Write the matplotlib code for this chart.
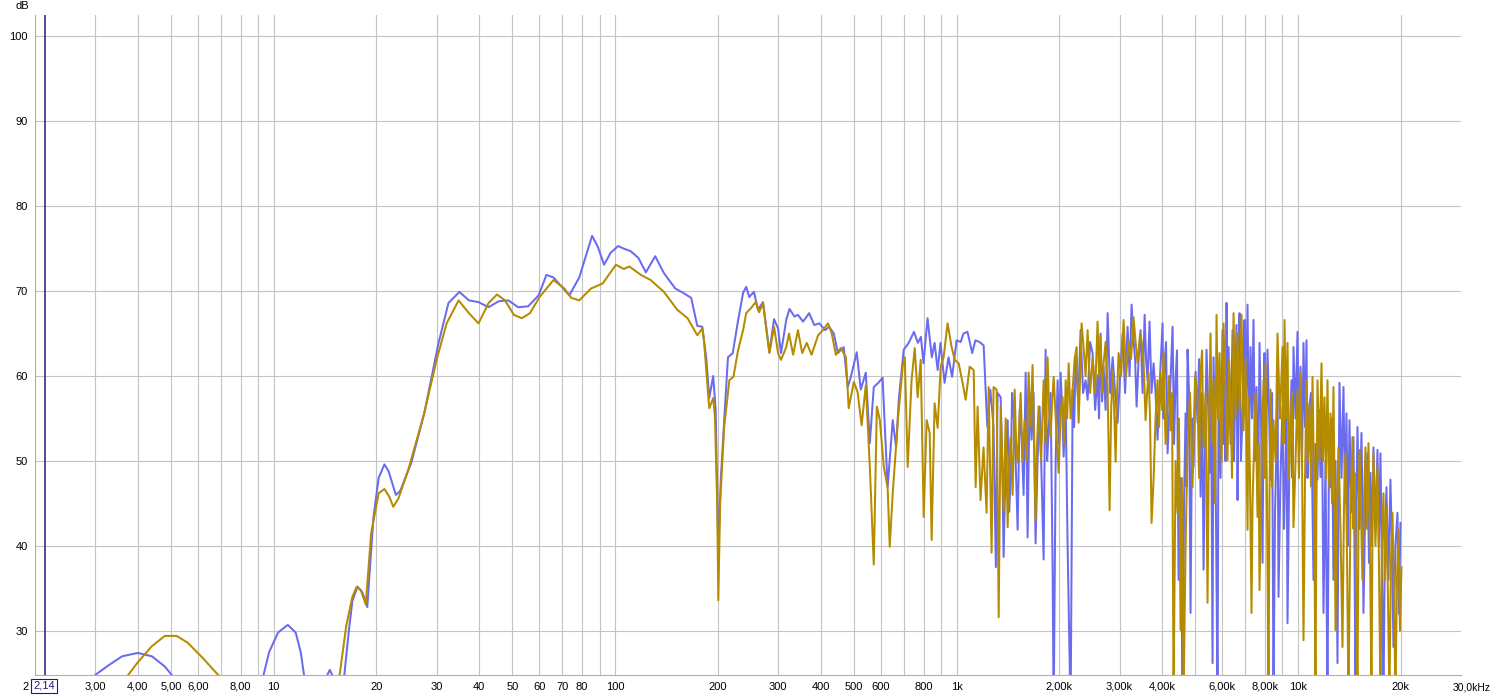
import matplotlib
matplotlib.use("Agg")
import matplotlib.pyplot as plt

plt.rcParams['font.family'] = ['Liberation Sans', 'DejaVu Sans']

# Trace 1 (blue), up to ~1.3 kHz: frequency in Hz, level in dB
blue_lo_freq = [2.0, 2.8, 3.0, 3.3, 3.6, 4.0, 4.4, 4.8, 5.1, 5.6, 8.5, 9.3, 9.7, 10.3, 11.0, 11.6, 12.0, 12.3, 13.5,
                14.2, 14.6, 15.0, 15.5, 16.1, 16.6, 17.0, 17.6, 18.2, 18.8, 19.6, 20.3, 21.1, 21.7, 22.8, 23.5, 25.3,
                27.6, 30.4, 32.5, 35.0, 37.3, 39.8, 42.6, 45.6, 48.7, 52.0, 55.6, 59.7, 62.9, 66.0, 73.4, 78.5, 85.6,
                89.0, 92.8, 97.0, 102, 106, 111, 117, 123, 131, 139, 150, 158, 167, 174, 180, 185, 188.6, 193.7, 197,
                200.5, 204, 208.6, 214, 221, 229, 237, 242, 247, 255, 262, 271, 283, 292, 300, 306, 317, 324, 335, 343,
                355, 370, 383, 396, 412, 423, 437, 449, 467, 480, 490, 510, 524, 542, 557, 572, 590, 607, 628, 650,
                665, 677, 700, 724, 750, 770, 786, 800, 822, 846, 862, 880, 897, 922, 947, 970, 1000, 1027, 1048,
                1076, 1111, 1135, 1167, 1200, 1230, 1255, 1283, 1303, 1318]
blue_lo_db = [15, 20, 24.8, 26.0, 27.0, 27.4, 27.0, 25.8, 24.5, 20, 15, 24.5, 27.5, 29.8, 30.7, 29.8, 27.5, 24.5, 20,
              24.4, 25.4, 24.4, 20, 24.8, 30.0, 33.5, 35.2, 34.5, 32.8, 43.4, 48.0, 49.6, 48.8, 46.0, 46.5, 49.8,
              55.6, 63.9, 68.6, 69.9, 68.9, 68.7, 68.1, 68.8, 68.9, 68.1, 68.2, 69.5, 71.9, 71.6, 69.5, 71.6, 76.5,
              75.2, 73.1, 74.5, 75.3, 75.0, 74.7, 73.9, 72.2, 74.1, 72.1, 70.3, 69.8, 69.2, 65.9, 65.8, 62.0, 57.4, 60.0, 56.0,
              39.5, 48.0, 54.8, 62.2, 62.7, 66.5, 69.8, 70.5, 69.3, 69.9, 67.8, 68.7, 62.8, 66.7, 65.6, 62.7, 66.6, 67.9, 67.0, 67.2,
              66.4, 67.4, 66.0, 66.2, 65.4, 65.8, 65.0, 62.7, 63.4, 58.7, 59.9, 62.8, 58.4, 60.4, 52.1, 58.7, 59.2, 59.8, 46.9, 54.8,
              51.6, 57.2, 63.1, 63.9, 65.2, 63.9, 64.6, 61.5, 66.8, 62.2, 63.9, 60.7, 63.9, 59.2, 62.2, 59.9, 64.2, 64.0, 65.0,
              65.2, 62.7, 64.2, 64.0, 63.6, 54.0, 58.4, 54.0, 37.5, 58.0]

# Trace 1 (blue), ~1.3 kHz to 20 kHz
blue_hi_freq = [1346, 1360, 1373, 1392, 1411, 1425, 1439, 1454, 1469, 1489, 1509, 1530, 1550, 1571, 1593, 1614, 1636,
                1658, 1680, 1703, 1726, 1750, 1774, 1798, 1822, 1841, 1860, 1885, 1911, 1924, 1950, 1976, 1996, 2017,
                2037, 2058, 2086, 2114, 2157, 2187, 2209, 2231, 2270, 2307, 2346, 2386, 2419, 2460, 2502, 2545, 2587,
                2613, 2640, 2667, 2694, 2731, 2769, 2816, 2864, 2912, 2961, 3012, 3063, 3115, 3167, 3210, 3254, 3298,
                3332, 3366, 3412, 3458, 3505, 3553, 3588, 3624, 3673, 3723, 3774, 3825, 3877, 3943,
                4010, 4037, 4064, 4105, 4148, 4218, 4290, 4333, 4377, 4420, 4467, 4527, 4589, 4635, 4682, 4714, 4746,
                4794, 4843, 4892, 4942, 5010, 5077, 5129, 5181, 5234, 5287, 5340, 5394, 5449, 5504, 5560, 5617, 5654,
                5730, 5809, 5848, 5928, 6008, 6049, 6090, 6130, 6173, 6215, 6257, 6341, 6428, 6490, 6559, 6600, 6648,
                6690, 6738, 6800, 6876, 6922, 6969, 7040, 7111, 7180, 7256, 7330, 7404, 7480, 7556, 7630, 7710, 7790,
                7868, 7920, 7975, 8056, 8137, 8220, 8303, 8390, 8472, 8560, 8646, 8705, 8764, 8880, 9003, 9095, 9186,
                9250, 9312, 9440, 9566, 9630, 9696, 9830, 9961, 10060, 10164, 10270, 10372, 10480, 10584, 10655,
                10728, 10910, 11095, 11245, 11399, 11515, 11631, 11750, 11869, 12030, 12193, 12320, 12442, 12570,
                12696, 12870, 13044, 13130, 13220, 13400, 13582, 13720, 13859, 14000, 14142, 14335, 14528, 14627,
                14725, 14826, 14926, 15130, 15334, 15437, 15541, 15750, 15967, 16130, 16292, 16460, 16625, 16850,
                17080, 17250, 17428, 17600, 17784, 17960, 18148, 18390, 18643, 18830, 19024, 19280, 19545, 19740,
                19943]
blue_hi_db = [57.5, 50.0, 38.7, 50.0, 54.8, 44.0, 47.8, 58.0, 55.6, 50.0, 41.9, 56.0, 52.8, 46.0, 60.4, 41.0, 58.0,
              52.5, 58.0, 40.3, 50.0, 56.4, 48.0, 38.4, 63.1, 50.0, 53.6, 58.0, 36.8, 20, 50.0, 59.5, 52.0, 60.4,
              56.0, 50.5, 57.0, 39.9, 20, 58.4, 54.0, 62.2, 57.0, 65.4, 58.0, 59.5, 57.2, 64.0, 62.7, 56.0, 60.1,
              55.0, 65.0, 57.0, 61.1, 56.0, 67.4, 58.0, 62.2, 58.0, 54.5, 60.0, 65.0, 58.0, 65.8, 60.0, 68.4, 64.2,
              62.0, 56.4, 62.0, 65.4, 58.0, 67.2, 62.0, 59.5, 66.4, 58.0, 61.5, 58.0, 52.5, 60.0,
              66.2, 55.0, 61.5, 64.0, 50.9, 58.0, 65.8, 52.0, 59.5, 63.0, 36.0, 48.0, 22, 45.0, 55.6, 47.0, 63.1,
              58.0, 32.1, 55.0, 49.3, 60.5, 54.5, 62.0, 45.8, 58.0, 37.2, 52.0, 63.1, 57.0, 48.6, 60.0, 26.2, 62.2,
              50.0, 22, 56.4, 48.0, 65.4, 52.0, 59.5, 50.0, 68.6, 55.0, 63.4, 52.0, 65.4, 50.0, 60.4, 66.0, 45.4,
              58.0, 67.4, 50.0, 55.2, 62.0, 66.6, 57.0, 68.4, 52.0, 63.4, 55.0, 66.6, 50.0, 58.7, 44.0, 63.9, 55.0,
              38.0, 55.0, 62.7, 50.0, 63.1, 56.0, 47.8, 58.0, 22, 44.0, 51.6, 60.0, 34.0, 48.0, 56.4, 42.0, 49.3,
              58.0, 30.9, 52.0, 59.5, 48.0, 63.4, 55.0, 65.2, 52.0, 61.1, 50.0, 63.9, 54.0, 64.2, 48.0,
              55.6, 58.0, 36.0, 52.0, 47.8, 56.0, 48.1, 55.0, 32.1, 50.0, 22, 52.0, 46.9, 55.0,
              36.0, 50.0, 26.2, 45.0, 59.2, 48.0, 58.7, 45.0, 55.6, 40.0, 54.8, 44.0, 52.8, 40.0,
              22, 45.0, 54.0, 42.0, 53.3, 45.0, 32.1, 46.0, 50.9, 38.0, 48.6, 40.0, 51.6, 42.0,
              51.3, 40.0, 50.9, 38.0, 22, 40.0, 46.9, 36.0, 47.8, 40.0, 28.1, 40.0, 43.9, 32.0,
              42.7]

# Trace 2 (gold), up to ~1.3 kHz
gold_lo_freq = [2.0, 3.3, 3.7, 4.0, 4.4, 4.8, 5.2, 5.6, 6.2, 6.7, 7.0, 7.8, 12, 15.0, 15.6, 16.3, 17.0, 17.5, 18.0,
                18.6, 19.3, 20.3, 21.1, 21.8, 22.4, 23.2, 24.8, 27.6, 30.0, 32.1, 34.8, 37.3, 39.8, 42.6, 45.1, 47.6,
                50.5, 53.3, 56.3, 60.1, 66.0, 71, 74.4, 78.5, 85, 92, 100.5, 106, 110, 119, 127, 139, 152, 163, 174,
                180, 182, 188.6, 193.7, 196, 199, 200.5, 203, 208.6, 216, 222, 229, 237, 242, 250, 258, 264, 271, 283,
                292, 300, 306, 317, 323, 332, 343, 353, 364, 376, 393, 406, 420, 431, 443, 458, 474, 483, 500, 513,
                527, 542, 557, 572, 584, 596, 612, 628, 637, 650, 673, 696, 705, 719, 738, 754, 769, 785, 801, 817,
                834, 845, 862, 880, 898, 916, 941, 967, 987, 1014, 1041, 1063, 1092, 1122, 1137, 1152, 1175, 1199,
                1224, 1241, 1266, 1283, 1310, 1328]
gold_lo_db = [15, 20, 24.5, 26.3, 28.2, 29.4, 29.4, 28.6, 26.8, 25.3, 24.5, 20, 12, 20, 24.8, 30.5, 34.0, 35.2, 34.8,
              33.1, 41.5, 46.2, 46.7, 45.8, 44.6, 45.6, 49.0, 55.6, 61.9, 66.2, 68.9, 67.4, 66.2, 68.6, 69.6, 68.9,
              67.2, 66.8, 67.4, 69.3, 71.3, 70.3, 69.2, 68.9, 70.3, 70.9, 73.1, 72.6, 72.9, 71.9, 71.3, 69.9, 67.8, 66.8, 64.8,
              65.6, 64.2, 56.2, 57.4, 55.2, 45.0, 33.6, 45.0, 54.0, 59.5, 59.9, 63.0, 65.4, 67.4, 68.0, 68.7, 67.5, 68.6, 62.7,
              65.8, 62.7, 61.9, 63.4, 65.0, 62.5, 65.4, 62.7, 63.9, 62.5, 64.8, 65.4, 66.2, 65.0, 62.5, 63.3, 62.2, 56.2, 59.3, 58.1,
              54.2, 58.9, 49.3, 37.8, 56.4, 54.8, 49.3, 46.9, 39.9, 46.2, 54.8, 61.3, 62.2, 49.3, 59.5, 63.3, 57.5, 61.9, 43.4, 54.8,
              53.3, 40.7, 56.8, 53.9, 61.1, 62.2, 66.2, 63.4, 61.9, 61.5, 59.2, 57.2, 61.1, 60.7, 46.9, 56.4, 45.4, 51.6,
              43.9, 58.7, 39.2, 58.7, 58.4, 31.6]

# Trace 2 (gold), ~1.3 kHz to 20 kHz
gold_hi_freq = [1346, 1360, 1373, 1392, 1411, 1425, 1439, 1459, 1479, 1494, 1509, 1525, 1540, 1561, 1582, 1603, 1625,
                1647, 1669, 1686, 1703, 1720, 1738, 1768, 1798, 1822, 1847, 1866, 1885, 1905, 1924, 1957, 1990, 2017,
                2044, 2065, 2086, 2108, 2129, 2158, 2187, 2216, 2246, 2277, 2300, 2323, 2354, 2386, 2419, 2460, 2502,
                2545, 2587, 2613, 2640, 2667, 2694, 2731, 2769, 2806, 2835, 2864, 2893, 2922, 2951, 2981, 3032, 3083,
                3136, 3189, 3243, 3298, 3343, 3389, 3447, 3505, 3540, 3576, 3612, 3649, 3686, 3723, 3774, 3825, 3877,
                3916, 3956, 3996,
                4037, 4092, 4148, 4190, 4232, 4275, 4319, 4378, 4437, 4480, 4527, 4573, 4620, 4683, 4746, 4827, 4909,
                4993, 5077, 5129, 5181, 5234, 5287, 5360, 5431, 5486, 5541, 5597, 5654, 5712, 5770, 5829, 5888, 5968,
                6049, 6130, 6215, 6278, 6341, 6405, 6471, 6560, 6648, 6738, 6829, 6875, 6922, 7015, 7111, 7135, 7159,
                7230, 7305, 7355, 7404, 7505, 7607, 7658, 7710, 7815, 7921, 7975, 8028, 8110, 8192, 8245, 8303, 8390,
                8472, 8590, 8705, 8850, 9003, 9065, 9125, 9220, 9312, 9405, 9501, 9600, 9696, 9830, 9961, 10060,
                10164, 10270, 10372, 10480, 10584, 10690, 10800, 10910, 11021, 11135, 11246, 11320, 11399, 11555,
                11710, 11830, 11949, 12070, 12193, 12320, 12442, 12570, 12696, 12780, 12868, 13000, 13132, 13310,
                13491, 13630, 13766, 13900, 14047, 14240, 14431, 14530, 14627, 14775, 14926, 15025, 15127, 15280,
                15437, 15595, 15752, 15910, 16075, 16240, 16403, 16515, 16625, 16850, 17080, 17250, 17428, 17600,
                17784, 17960, 18148, 18330, 18518, 18700, 18898, 19090, 19282, 19480, 19677, 19880, 20079]
gold_hi_db = [56.4, 50.0, 44.2, 55.0, 42.2, 50.0, 52.8, 46.0, 58.4, 52.0, 49.8, 54.0, 58.0, 50.0, 54.8, 50.0, 60.4,
              54.0, 61.3, 52.0, 43.0, 52.0, 56.4, 50.0, 59.5, 52.0, 62.2, 56.0, 52.8, 57.0, 59.9, 54.0, 48.6, 56.0,
              57.5, 52.0, 59.5, 55.0, 61.5, 55.0, 58.4, 62.0, 63.4, 54.5, 60.0, 66.2, 63.4, 60.0, 65.4, 58.0, 62.2,
              58.0, 66.4, 60.0, 64.6, 58.0, 61.5, 64.0, 58.4, 44.2, 56.0, 60.7, 56.0, 49.9, 58.0, 62.7, 60.0, 66.6,
              60.0, 64.2, 62.0, 66.9, 64.0, 61.5, 65.0, 63.4, 60.0, 54.8, 58.0, 60.4, 55.0, 42.7, 47.8, 55.0, 59.5,
              54.0, 60.4, 56.0,
              62.7, 52.0, 56.4, 60.0, 53.6, 58.0, 22, 50.0, 43.9, 55.0, 30.1, 48.0, 22, 40.0, 51.6, 58.0, 46.9,
              60.0, 57.5, 48.0, 60.4, 63.0, 51.6, 58.0, 33.3, 55.0, 65.0, 52.0, 59.5, 45.0, 67.2, 55.0, 62.7, 50.0,
              66.2, 58.0, 50.1, 62.0, 57.5, 48.0, 67.4, 55.0, 65.0, 56.0, 67.2, 60.0, 53.6, 62.0, 41.9, 50.0, 57.5,
              48.0, 32.1, 45.0, 49.3, 58.0, 43.4, 52.0, 34.8, 50.0, 59.5, 48.0, 61.5, 45.0, 22, 45.0, 58.4, 47.0,
              54.8, 50.0, 65.0, 55.0, 63.4, 52.0, 66.6, 55.0, 63.9, 48.0, 53.6, 58.0, 42.2, 50.0, 58.4, 48.0,
              60.4, 50.0, 28.9, 48.0, 59.5, 50.0, 56.8, 47.0, 59.9, 48.0, 22, 45.0, 59.5, 50.0,
              61.5, 50.0, 57.5, 48.0, 59.5, 47.0, 55.6, 45.0, 58.7, 48.0, 30.1, 45.0, 51.6, 42.0,
              28.1, 45.0, 50.9, 40.0, 22, 44.0, 52.8, 42.0, 48.6, 38.0, 22, 42.0, 51.3, 44.0,
              36.0, 45.0, 51.6, 42.0, 52.1, 40.0, 22, 42.0, 50.9, 40.0, 49.3, 38.0, 22, 40.0,
              46.2, 36.0, 44.6, 34.0, 22, 38.0, 43.9, 35.0, 22, 36.0, 41.9, 30.0, 37.5]

blue_freq = blue_lo_freq + blue_hi_freq
blue_db = blue_lo_db + blue_hi_db
gold_freq = gold_lo_freq + gold_hi_freq
gold_db = gold_lo_db + gold_hi_db

# axis labels as printed on the chart
tick_freqs = [3, 4, 5, 6, 8, 10, 20, 30, 40, 50, 60, 70, 80, 100, 200, 300, 400, 500, 600, 800,
              1000, 2000, 3000, 4000, 6000, 8000, 10000, 20000]
tick_labels = ['3,00', '4,00', '5,00', '6,00', '8,00', '10', '20', '30', '40', '50', '60', '70', '80',
               '100', '200', '300', '400', '500', '600', '800', '1k', '2,00k', '3,00k', '4,00k', '6,00k',
               '8,00k', '10k', '20k']
db_ticks = [30, 40, 50, 60, 70, 80, 90, 100]
cursor_freq = 2.14

W, H = 1494, 697
fig = plt.figure(figsize=(W / 100, H / 100), dpi=100)
ax = fig.add_axes([35 / W, 1 - 675 / H, 1426 / W, 660 / H])

ax.set_xscale('log')
ax.set_xlim(2.03, 30000)
ax.set_ylim(24.8, 102.5)

grid_pos = [m * 10 ** e for e in range(0, 5) for m in range(1, 10) if 2 <= m * 10 ** e <= 20000]
ax.set_xticks(grid_pos, minor=True)
ax.set_xticks(tick_freqs)
ax.set_xticklabels(tick_labels)
ax.xaxis.set_minor_formatter(plt.NullFormatter())
ax.set_yticks(db_ticks)
ax.grid(True, which='both', axis='x', color='#c4c4c4', lw=0.8)
ax.grid(True, which='major', axis='y', color='#c4c4c4', lw=0.8)
ax.tick_params(which='both', length=0, labelsize=8, colors='black', pad=5)

for s in ['top', 'right']:
    ax.spines[s].set_visible(False)
for s in ['left', 'bottom']:
    ax.spines[s].set_color('#b0b0b0')
    ax.spines[s].set_linewidth(0.8)

ax.plot(blue_freq, blue_db, color='#6b6bef', lw=1.45, solid_joinstyle='round')
ax.plot(gold_freq, gold_db, color='#b58c00', lw=1.45, solid_joinstyle='round')

ax.axvline(cursor_freq, color='#1c1c80', lw=1.1)

fig.text(22 / W, 1 - 6 / H, 'dB', fontsize=8, ha='center', va='center')
fig.text(26 / W, 1 - 687 / H, '2', fontsize=8, ha='center', va='center')
fig.text(1491 / W, 1 - 687 / H, '30,0kHz', fontsize=7.5, ha='right', va='center')
fig.text(44 / W, 1 - 686 / H, '2,14', fontsize=8, ha='center', va='center', color='#1c1c80',
         bbox=dict(boxstyle='square,pad=0.2', fc='white', ec='#1c1c80', lw=0.8))

fig.savefig('out.png', dpi=100)
